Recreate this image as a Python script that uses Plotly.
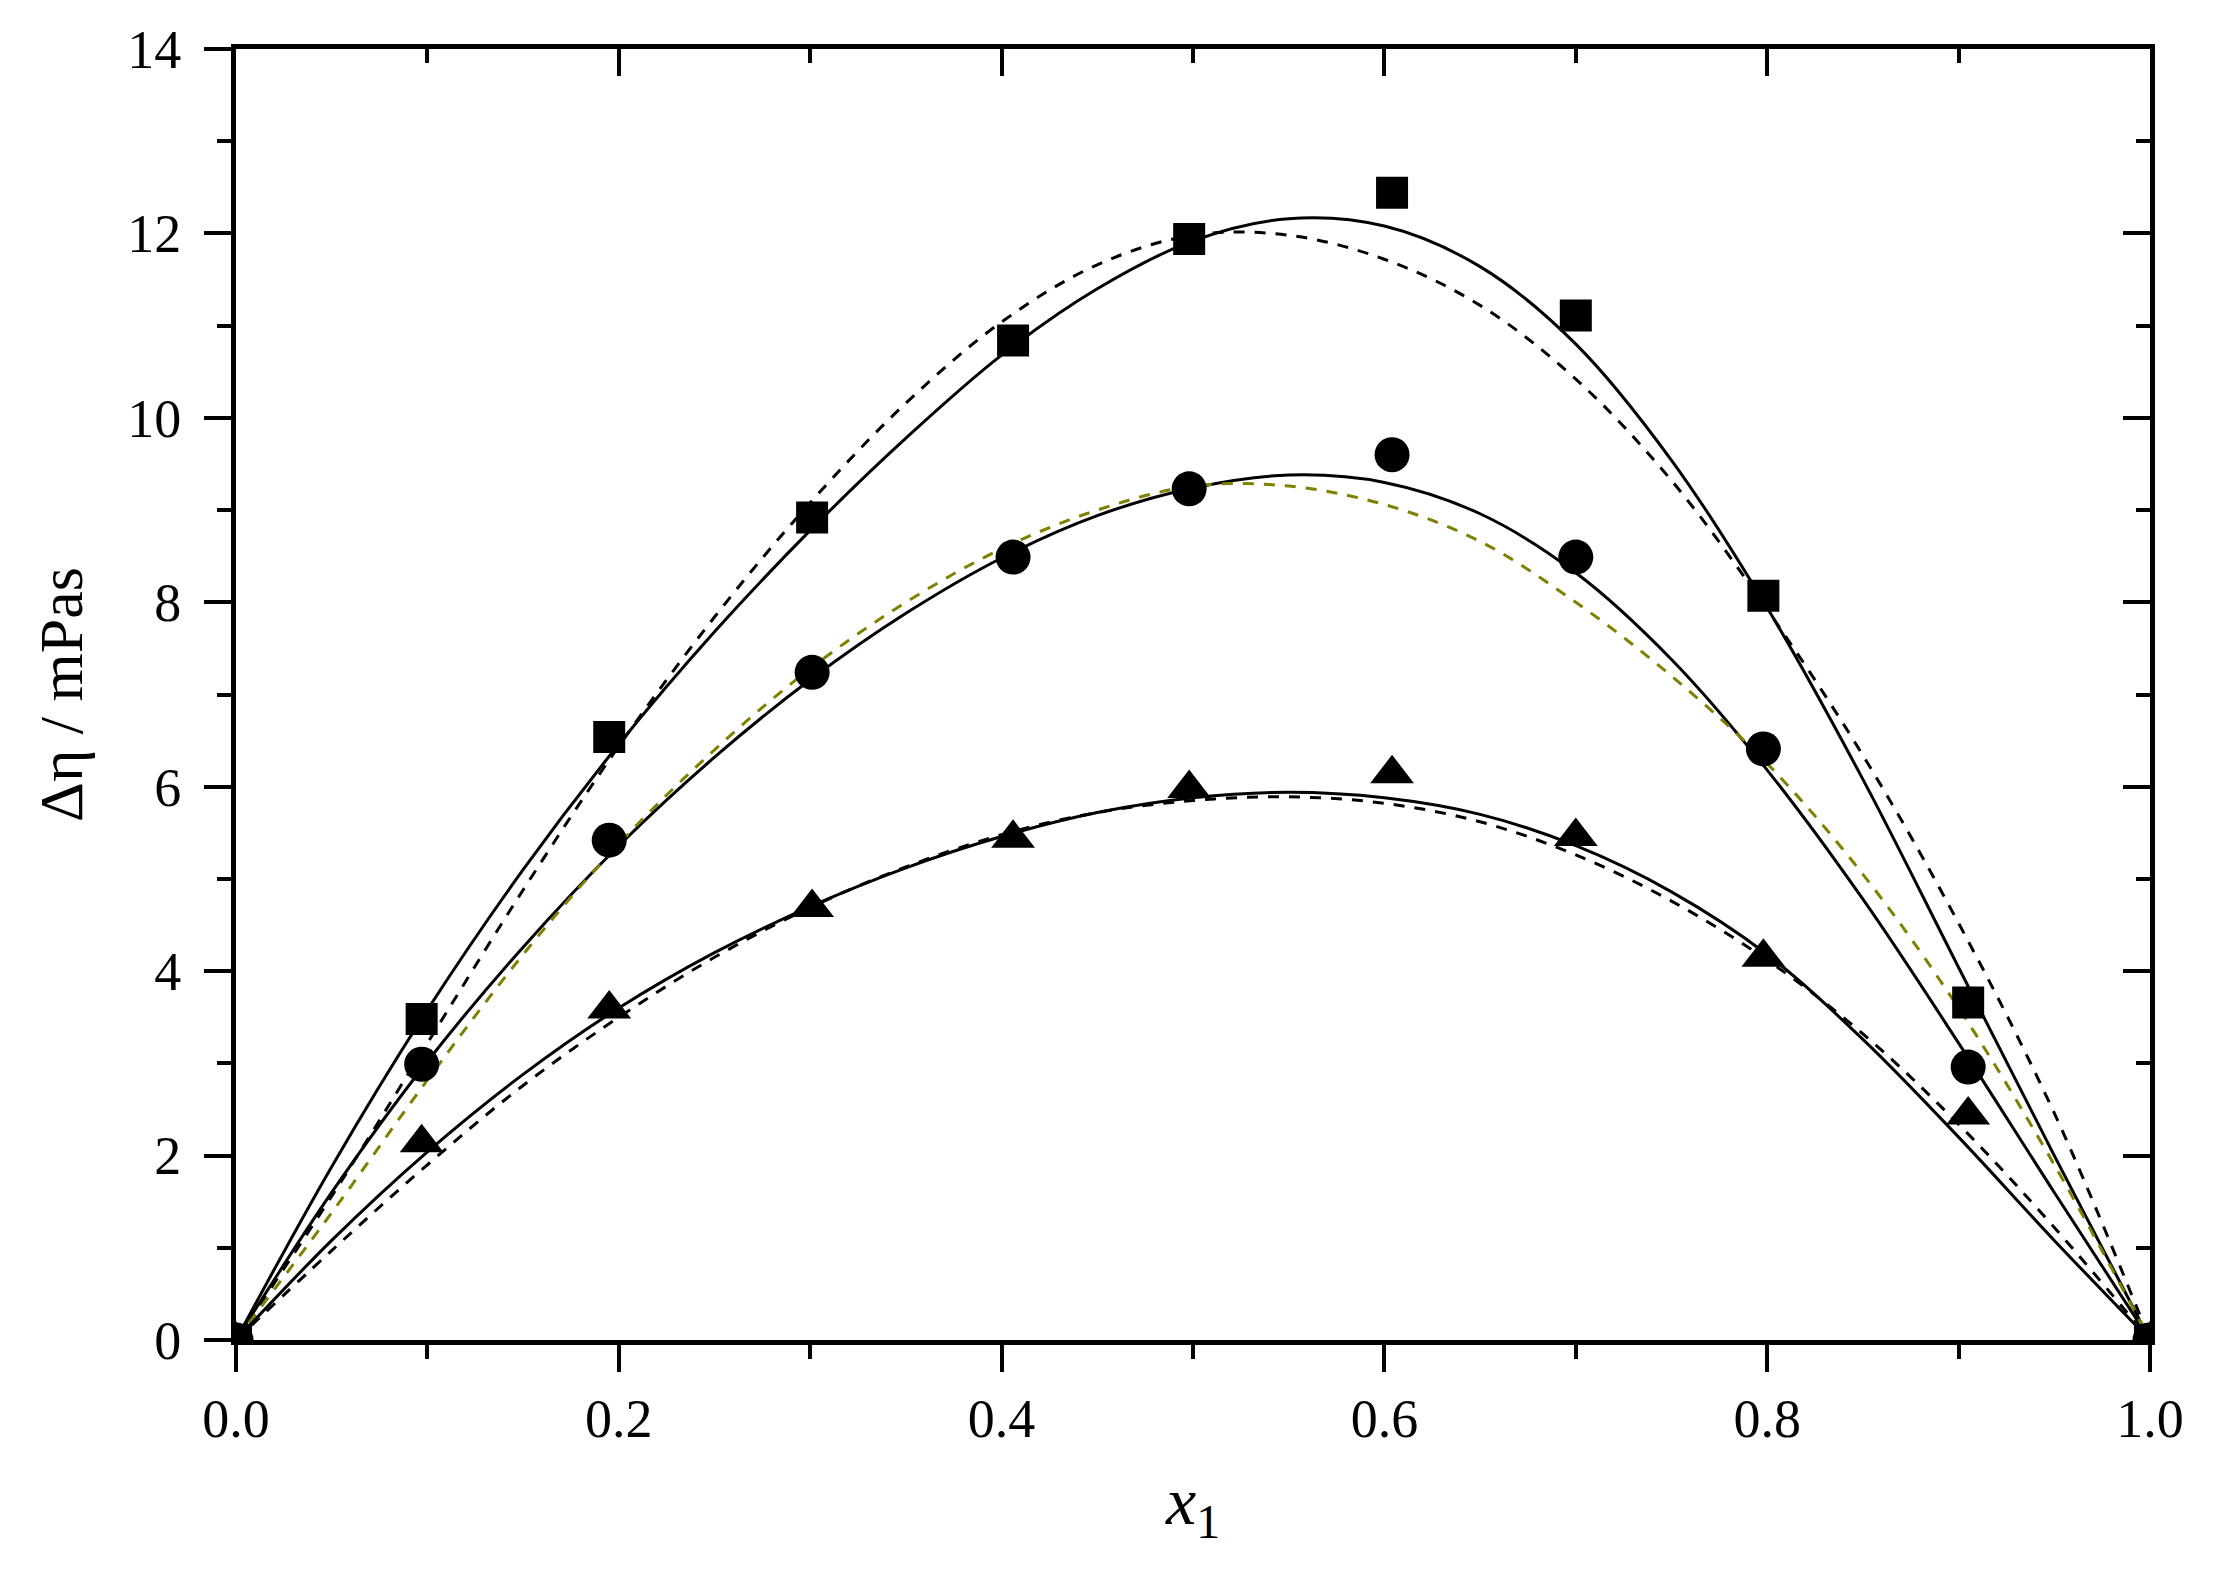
import plotly.graph_objects as go

# measured points (mole fraction x1, viscosity deviation in mPa s)
x_pts = [0.0, 0.097, 0.195, 0.301, 0.406, 0.498, 0.604, 0.700, 0.798, 0.905, 1.0]
sq_pts = [0.0, 3.48, 6.54, 8.92, 10.84, 11.94, 12.44, 11.11, 8.07, 3.66, 0.0]
ci_pts = [0.0, 2.99, 5.42, 7.24, 8.49, 9.23, 9.60, 8.49, 6.41, 2.96, 0.0]
tr_pts = [0.0, 2.14, 3.59, 4.69, 5.44, 5.98, 6.14, 5.46, 4.15, 2.44, 0.0]

# fitted curves
x_fit = [0.0, 0.05, 0.10, 0.15, 0.20, 0.25, 0.30, 0.35, 0.40, 0.45, 0.50,
         0.55, 0.60, 0.65, 0.70, 0.75, 0.80, 0.85, 0.90, 0.95, 1.0]
sq_solid = [0.0, 1.88, 3.58, 5.10, 6.46, 7.68, 8.78, 9.78, 10.68, 11.40, 11.92,
            12.16, 12.08, 11.64, 10.80, 9.54, 7.94, 6.08, 4.04, 2.00, 0.0]
sq_dash = [0.0, 1.56, 3.22, 4.88, 6.44, 7.84, 9.08, 10.16, 11.04, 11.66, 11.98,
           11.98, 11.72, 11.22, 10.42, 9.32, 7.92, 6.34, 4.52, 2.46, 0.0]
ci_solid = [0.0, 1.60, 3.02, 4.26, 5.36, 6.32, 7.16, 7.88, 8.48, 8.94, 9.24,
            9.38, 9.30, 8.96, 8.32, 7.38, 6.18, 4.78, 3.22, 1.60, 0.0]
ci_dash = [0.0, 1.38, 2.82, 4.18, 5.38, 6.40, 7.28, 8.00, 8.58, 9.00, 9.26,
           9.26, 9.06, 8.66, 8.00, 7.20, 6.25, 5.05, 3.60, 1.90, 0.0]
tr_solid = [0.0, 1.08, 2.04, 2.88, 3.60, 4.20, 4.70, 5.12, 5.46, 5.72, 5.88,
            5.94, 5.88, 5.70, 5.36, 4.86, 4.18, 3.26, 2.20, 1.08, 0.0]
tr_dash = [0.0, 0.97, 1.90, 2.76, 3.50, 4.15, 4.69, 5.13, 5.48, 5.72, 5.85,
           5.89, 5.82, 5.62, 5.26, 4.76, 4.12, 3.32, 2.34, 1.22, 0.0]

FONT = "Liberation Serif, Times New Roman, serif"
fig = go.Figure()

curves = [
    (sq_solid, "black", "solid"),
    (sq_dash, "black", "11px,10px"),
    (ci_solid, "black", "solid"),
    (ci_dash, "#808000", "11px,10px"),
    (tr_solid, "black", "solid"),
    (tr_dash, "black", "11px,10px"),
]
for ys, col, dash in curves:
    fig.add_trace(go.Scatter(
        x=x_fit, y=ys, mode="lines",
        line=dict(color=col, width=3, dash=dash, shape="spline", smoothing=1.0),
        showlegend=False, hoverinfo="skip",
    ))

for ys, sym, size in [(sq_pts, "square", 32), (ci_pts, "circle", 35), (tr_pts, "triangle-up", 38)]:
    fig.add_trace(go.Scatter(
        x=x_pts, y=ys, mode="markers",
        marker=dict(symbol=sym, size=size, color="black", line=dict(width=0)),
        showlegend=False,
    ))

# invisible trace to hold the mirrored (top/right) axes carrying inward ticks
fig.add_trace(go.Scatter(x=[0, 1], y=[0, 14], xaxis="x2", yaxis="y2",
                         mode="markers", marker=dict(opacity=0), showlegend=False,
                         hoverinfo="skip"))

tick_font = dict(family=FONT, size=54, color="black")
common = dict(showgrid=False, zeroline=False, linecolor="black", linewidth=5,
              tickcolor="black", tickwidth=4)

fig.update_layout(
    width=2206, height=1573,
    margin=dict(l=228, r=64, t=37, b=241),
    plot_bgcolor="white", paper_bgcolor="white",
    xaxis=dict(range=[0, 1], tickvals=[0, 0.2, 0.4, 0.6, 0.8, 1.0],
               ticktext=["0.0", "0.2", "0.4", "0.6", "0.8", "1.0"],
               ticks="outside", ticklen=27, showline=True, mirror=True,
               minor=dict(ticks="outside", ticklen=14, dtick=0.1, tickwidth=4,
                          tickcolor="black", showgrid=False),
               tickfont=tick_font,
               title=dict(text="<i>x</i><sub>1</sub>",
                          font=dict(family=FONT, size=68, color="black"),
                          standoff=30),
               **common),
    yaxis=dict(range=[0, 14], tickvals=[0, 2, 4, 6, 8, 10, 12, 14],
               ticks="outside", ticklen=27, showline=True, mirror=True,
               ticklabelstandoff=12,
               minor=dict(ticks="outside", ticklen=14, dtick=1, tickwidth=4,
                          tickcolor="black", showgrid=False),
               tickfont=tick_font,
               title=dict(text="Δη / mPas",
                          font=dict(family=FONT, size=62, color="black"),
                          standoff=26),
               **common),
    xaxis2=dict(range=[0, 1], overlaying="x", side="top", showline=False,
                tickvals=[0, 0.2, 0.4, 0.6, 0.8, 1.0], showticklabels=False,
                ticks="inside", ticklen=27,
                minor=dict(ticks="inside", ticklen=14, dtick=0.1, tickwidth=4,
                           tickcolor="black", showgrid=False),
                **common),
    yaxis2=dict(range=[0, 14], overlaying="y", side="right", showline=False,
                tickvals=[0, 2, 4, 6, 8, 10, 12, 14], showticklabels=False,
                ticks="inside", ticklen=27,
                minor=dict(ticks="inside", ticklen=14, dtick=1, tickwidth=4,
                           tickcolor="black", showgrid=False),
                **common),
)

fig.write_html("out.html")
